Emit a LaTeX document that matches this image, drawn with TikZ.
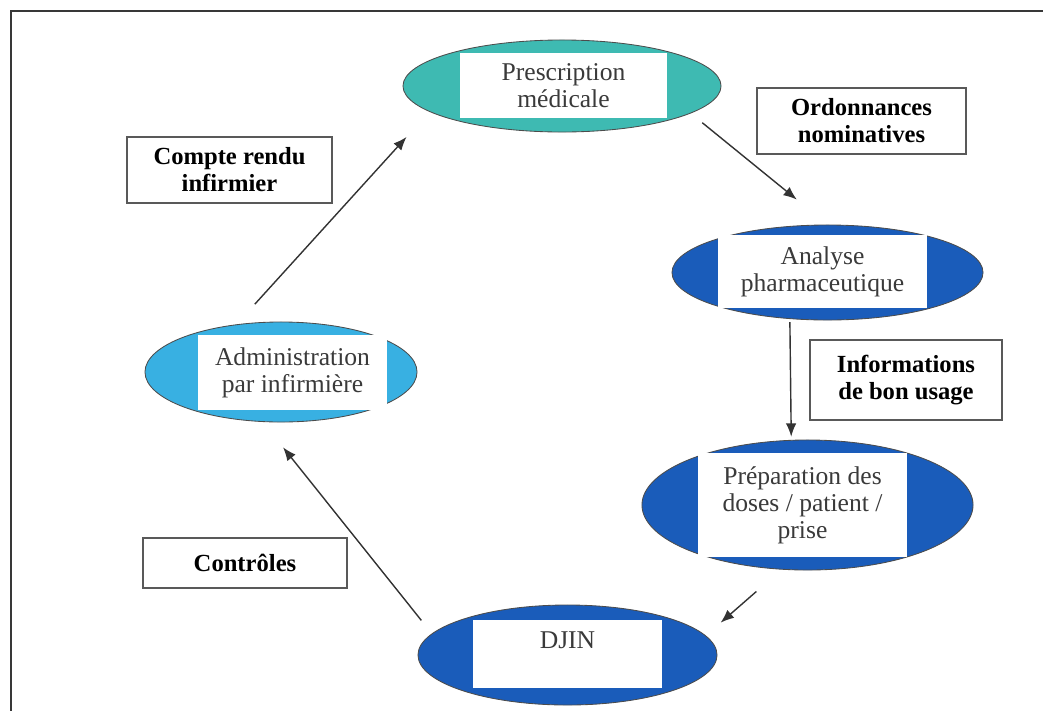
\documentclass[tikz,border=0pt]{standalone}
\usepackage{fontspec}
\setmainfont{Liberation Serif}
\usetikzlibrary{arrows.meta,shapes.geometric}
\definecolor{tealfill}{RGB}{62,186,178}
\definecolor{skyfill}{RGB}{56,176,226}
\definecolor{bluefill}{RGB}{26,92,186}
\definecolor{inktext}{RGB}{58,58,58}

\begin{document}
\begin{tikzpicture}[
    x=0.025cm, y=-0.025cm,
    >={Latex[length=9.5pt,width=7.5pt]},
    oval/.style={ellipse, draw=black!70, line width=0.6pt, inner sep=0pt},
    card/.style={fill=white, inner sep=0pt, align=center, text=inktext, font=\fontsize{18.2}{19.2}\selectfont},
    tag/.style={draw=black!65, line width=1pt, fill=white, inner sep=0pt, align=center, font=\fontsize{17.5}{19.2}\selectfont\bfseries},
    flow/.style={->, draw=black!80, line width=1pt}
]
\useasboundingbox (0,0) rectangle (1043,711);
\draw[black!78, line width=1.4pt] (1043,11) -- (11,11) -- (11,711);

% cycle steps
\node[oval, fill=tealfill, minimum width=7.95cm, minimum height=2.3cm] (presc) at (562,86) {};
\node[card, minimum width=5.175cm, minimum height=1.625cm] (presc-txt) at (563.5,85.5) {Prescription\\médicale};
\node[oval, fill=bluefill, minimum width=7.775cm, minimum height=2.375cm] (analyse) at (827.5,272.5) {};
\node[card, minimum width=5.225cm, minimum height=1.825cm] (analyse-txt) at (822.5,271.5) {Analyse\\pharmaceutique};
\node[oval, fill=bluefill, minimum width=8.275cm, minimum height=3.25cm] (prep) at (807.5,505) {};
\node[card, minimum width=5.225cm, minimum height=2.6cm] (prep-txt) at (802.5,505) {Préparation des\\doses / patient /\\prise};
\node[oval, fill=bluefill, minimum width=7.475cm, minimum height=2.5cm] (djin) at (567.5,655) {};
\node[card, minimum width=4.725cm, minimum height=1.7cm] (djin-txt) at (567.5,654) {DJIN\\~};
\node[oval, fill=skyfill, minimum width=6.8cm, minimum height=2.5cm] (admin) at (281,372) {};
\node[card, minimum width=4.725cm, minimum height=1.875cm] (admin-txt) at (292.5,372.5) {Administration\\par infirmière};

% flux labels
\node[tag, minimum width=5.125cm, minimum height=1.65cm] (lbl-compte) at (229.5,170) {Compte rendu\\infirmier};
\node[tag, minimum width=5.225cm, minimum height=1.65cm] (lbl-ordo) at (861.5,121) {Ordonnances\\nominatives};
\node[tag, minimum width=4.8cm, minimum height=2cm] (lbl-info) at (906,380) {Informations\\de bon usage};
\node[tag, minimum width=5.1cm, minimum height=1.25cm] (lbl-ctrl) at (245,563) {Contrôles};

\draw[flow, shorten <=0.37cm, shorten >=0.99cm] (presc.348) -- (analyse.north);
\draw[flow, shorten <=0.08cm, shorten >=0.08cm] (analyse.231.7) -- (prep.104.3);
\draw[flow, shorten <=0.83cm, shorten >=0.49cm] (prep.248) -- (djin.8.5);
\draw[flow, shorten <=0.42cm, shorten >=0.81cm] (djin.171.7) -- (admin.250);
\draw[flow, shorten <=0.68cm, shorten >=0.85cm] (admin.133) -- (presc.191);
\end{tikzpicture}
\end{document}
